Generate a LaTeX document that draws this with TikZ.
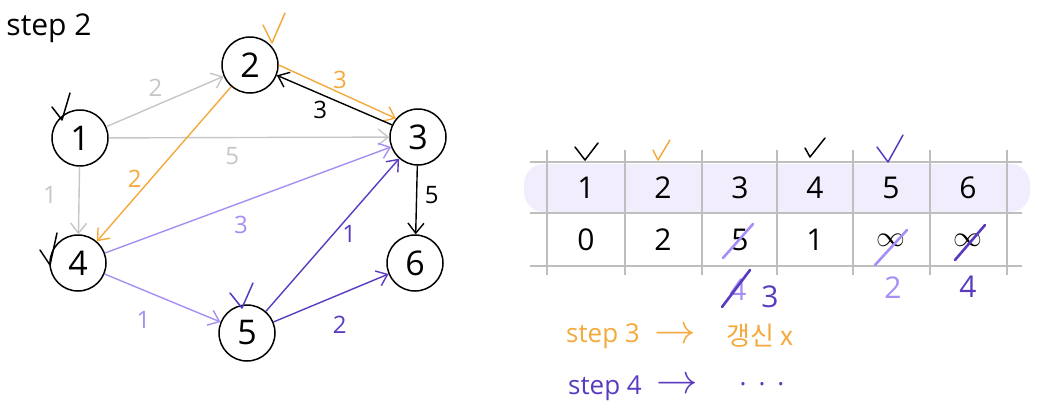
\documentclass[tikz,border=0pt]{standalone}
\usepackage{fontspec}
\setmainfont{Open Sans}
\newfontfamily\krfont{Noto Sans CJK KR}
\usetikzlibrary{arrows.meta, positioning}
\definecolor{edgegray}{HTML}{C6C6C6}
\definecolor{orng}{HTML}{F4A93C}
\definecolor{lpurp}{HTML}{A68EF4}
\definecolor{dpurp}{HTML}{5A3BC0}
\definecolor{band}{HTML}{F1EDFD}
\definecolor{gridgray}{HTML}{BEBEBE}

\begin{document}
\begin{tikzpicture}[
        x=0.5pt, y=-0.5pt,
        vtx/.style={draw, circle, line width=0.75pt, minimum size=28pt, inner sep=0pt, font=\fontsize{17}{17}\selectfont},
        lbl/.style={font=\fontsize{12}{12}\selectfont, inner sep=0pt},
        cell/.style={font=\fontsize{15}{15}\selectfont, inner sep=0pt},
        chk/.style={line width=0.75pt, line join=round, line cap=round},
        strike/.style={line width=1.3pt, line cap=round},
        edge/.style={line width=0.7pt, -{Straight Barb[length=5pt, width=8pt]}},
        note/.style={font=\fontsize{13}{13}\selectfont, inner sep=0pt},
        arr/.style={font=\fontsize{20}{20}\selectfont, inner sep=0pt}
      ]
        \useasboundingbox (0,0) rectangle (1038,418);

        \node[font=\fontsize{15}{15}\selectfont] (title) at (49,28) {step 2};

        % graph
        \node[vtx] (n1) at (80,138)  {1};
        \node[vtx] (n2) at (250,65)  {2};
        \node[vtx] (n3) at (418,137) {3};
        \node[vtx] (n4) at (78,263)  {4};
        \node[vtx] (n5) at (247,333) {5};
        \node[vtx] (n6) at (415,263) {6};

        \draw[edge, edgegray] (n1) -- node[lbl, pos=0.47, xshift=-3pt, yshift=7.5pt]{2} (n2);
        \draw[edge, edgegray] (n1) -- node[lbl, pos=0.44, yshift=-9pt]{5} (n3);
        \draw[edge, edgegray] (n1) -- node[lbl, pos=0.42, xshift=-14.5pt]{1} (n4);
        \draw[edge, orng] (n2) -- node[lbl, pos=0.65, xshift=-4.5pt, yshift=4pt]{2} (n4);
        \draw[edge, orng] (n2.east) -- node[lbl, pos=0.48, xshift=2.5pt, yshift=5.5pt]{3} (n3.140);
        \draw[edge] (n3.155) -- node[lbl, pos=0.57, xshift=-3pt, yshift=-6.8pt]{3} (n2.-21);
        \draw[edge] (n3) -- node[lbl, pos=0.43, xshift=7.5pt]{5} (n6);
        \draw[edge, lpurp] (n4) -- node[lbl, pos=0.45, xshift=3.6pt, yshift=-9.6pt]{3} (n3);
        \draw[edge, lpurp] (n4) -- node[lbl, pos=0.43, xshift=-5.4pt, yshift=-12.8pt]{1} (n5);
        \draw[edge, dpurp] (n5) -- node[lbl, pos=0.52, xshift=7pt, yshift=-1pt]{1} (n3);
        \draw[edge, dpurp] (n5) -- node[lbl, pos=0.48, xshift=5.5pt, yshift=-13pt]{2} (n6);

        % visited marks
        \draw[chk] (n1) ++(-28,-31) -- ++(10,13) -- ++(8,-27);
        \draw[chk] (n4) ++(-38,-13) -- ++(10,15) -- ++(7,-32);
        \draw[chk, orng] (n2) ++(13,-40) -- ++(9,18) -- ++(13,-30);
        \draw[chk, dpurp] (n5) ++(-17,-40) -- ++(12,15) -- ++(11,-25);

        % distance table
        \fill[band, rounded corners=10pt] (524,164) rectangle (1030,212);
        \foreach \y in {162,213,266}
            \draw[gridgray, line width=0.6pt] (530,\y) -- (1022,\y);
        \foreach \x in {547,625,702,777,853,930,1007}
            \draw[gridgray, line width=0.6pt] (\x,150) -- (\x,275);
        \foreach \x/\v [count=\i] in {586/1, 663/2, 740/3, 815/4, 891/5, 968/6}
            \node[cell] (h\i) at (\x,188) {\v};
        \foreach \x/\v [count=\i] in {586/0, 663/2, 740/5, 815/1, 891/$\infty$, 968/$\infty$}
            \node[cell] (d\i) at (\x,240) {\v};

        \draw[chk] (h1) ++(-11,-41) -- ++(10,13) -- ++(13,-17);
        \draw[chk, orng] (h2) ++(-10,-38) -- ++(5,10) -- ++(12,-20);
        \draw[chk] (h4) ++(-10,-40) -- ++(5,9) -- ++(15,-19);
        \draw[chk, dpurp] (h5) ++(-14,-41) -- ++(11,15) -- ++(15,-27);

        \draw[strike, lpurp] (d3) ++(-17,18) -- ++(30,-34);
        \draw[strike, lpurp] (d5) ++(-16,25) -- ++(32,-35);
        \draw[strike, dpurp] (d6) ++(-13,20) -- ++(30,-35);

        \node[cell, lpurp] (u3) at (738,290) {4};
        \node[cell, dpurp] (u3b) at (770,297) {3};
        \node[cell, lpurp] (u5) at (893,288) {2};
        \node[cell, dpurp] (u6) at (968,287) {4};
        \draw[strike, dpurp] (u3) ++(-16,17) -- ++(28,-37);

        % notes
        \node[note, orng] (s3) at (603,336) {step 3};
        \node[arr, orng] (s3a) at (675,336) {$\rightarrow$};
        \node[note, orng] (s3b) at (760,336) {\krfont 갱신 x};
        \node[note, dpurp] (s4) at (605,388) {step 4};
        \node[arr, dpurp] (s4a) at (677,386) {$\rightarrow$};
        \node[note, dpurp] (s4b) at (762,384) {.\hspace{6pt}.\hspace{6pt}.};
    \end{tikzpicture}
\end{document}
